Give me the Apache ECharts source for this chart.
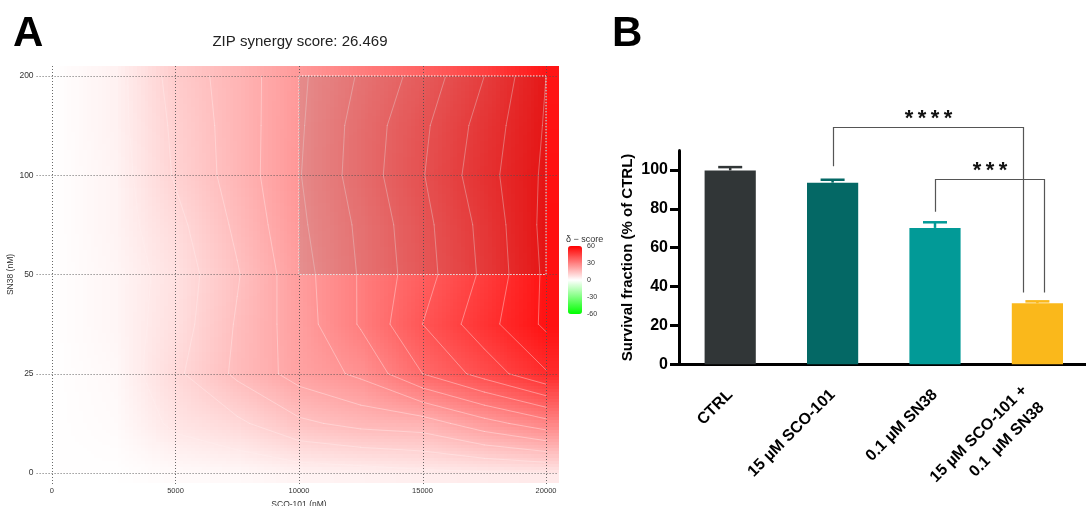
<!DOCTYPE html>
<html>
<head>
<meta charset="utf-8">
<script src="https://cdn.jsdelivr.net/npm/echarts@6.0.0/dist/echarts.min.js"></script>
<style>
html, body { margin: 0; padding: 0; background: #fff; }
#chart { width: 1086px; height: 506px; }
</style>
</head>
<body>
<div id="chart"></div>
<script>
const FONT = "'Liberation Sans', Arial, sans-serif"

// ---- panel A : ZIP synergy map ----
const zipScore = 26.469
const scoTicks = [0, 5000, 10000, 15000, 20000]
const sn38Ticks = [0, 25, 50, 100, 200]
// δ-score every half grid step
// rows: SN38 0 -> 200 (bottom to top), cols: SCO-101 0 -> 20000
const zipStep = 0.5
const zipScores = [
  [0, 0, 1, 1.5, 2.5, 3, 4, 4.5, 5],
  [0, 1, 6, 9, 14, 16.5, 17.5, 23, 28],
  [0, 1.5, 9, 16, 22, 26, 35, 42, 49.5],
  [0, 2, 7.5, 15.5, 22.5, 30.5, 40, 48, 56],
  [0, 2, 7, 14.6, 23, 30.5, 38, 46, 56],
  [0, 2.5, 8.5, 16, 24, 31, 38.5, 46.5, 56.5],
  [0, 2.5, 10.5, 17.2, 24.7, 32.3, 39.7, 48, 56],
  [0, 3, 11, 17.3, 24.3, 32, 39, 47, 55.5],
  [0, 3, 12, 17.4, 24, 30.6, 37, 45, 55],
]
const contourStep = 5
// most synergistic area
const bestSco = [10000, 20000]
const bestSn38 = [50, 200]

// ---- panel B : survival ----
const groups = ['CTRL', '15 µM SCO-101', '0.1 µM SN38', '15 µM SCO-101 +\n0.1  µM SN38']
const survival = [99.8, 93.5, 70.2, 31.4]
const survivalErr = [1.7, 1.5, 2.9, 1.0]
const barColors = ['#313637', '#046865', '#029a97', '#fab81b']
// [from, to, stars, foot left, foot right, top]
const comparisons = [
  [1, 3, '****', 102, 37, 122],
  [2, 3, '***', 78.5, 37, 95.5],
]

const surfaceData = []
zipScores.forEach((row, r) => row.forEach((v, c) => surfaceData.push([c * zipStep, r * zipStep, v])))

let surfaceCells = []
function renderSurface(params, api) {
  const k = params.dataIndexInside
  if (k === 0) surfaceCells = []
  surfaceCells.push([api.value(0), api.value(1), api.visual('color')])
  if (k < params.dataInsideLength - 1) return
  const nc = zipScores[0].length
  const nr = zipScores.length
  const cvs = document.createElement('canvas')
  cvs.width = nc
  cvs.height = nr
  const ctx = cvs.getContext('2d')
  surfaceCells.forEach(([x, y, col]) => {
    ctx.fillStyle = col
    ctx.fillRect(Math.round(x / zipStep), nr - 1 - Math.round(y / zipStep), 1, 1)
  })
  const h = zipStep / 2
  const tl = api.coord([-h, (nr - 1) * zipStep + h])
  const br = api.coord([(nc - 1) * zipStep + h, -h])
  return {
    type: 'image',
    style: { image: cvs, x: tl[0], y: tl[1], width: br[0] - tl[0], height: br[1] - tl[1] },
  }
}

// marching squares on the score grid
function contourSegments(api) {
  const segs = []
  const z = zipScores
  const pt = (c, r) => api.coord([c * zipStep, r * zipStep])
  for (let L = contourStep; L < 60; L += contourStep) {
    for (let r = 0; r < z.length - 1; r++) {
      for (let c = 0; c < z[0].length - 1; c++) {
        const corners = [[c, r], [c + 1, r], [c + 1, r + 1], [c, r + 1]]
        const hits = []
        for (let e = 0; e < 4; e++) {
          const a = corners[e]
          const b = corners[(e + 1) % 4]
          const va = z[a[1]][a[0]]
          const vb = z[b[1]][b[0]]
          if ((va < L) !== (vb < L)) {
            const t = (L - va) / (vb - va)
            const pa = pt(a[0], a[1])
            const pb = pt(b[0], b[1])
            hits.push([pa[0] + t * (pb[0] - pa[0]), pa[1] + t * (pb[1] - pa[1])])
          }
        }
        for (let h = 0; h + 1 < hits.length; h += 2) segs.push([hits[h], hits[h + 1]])
      }
    }
  }
  return segs
}

function renderOverlay(params, api) {
  const cs = params.coordSys
  const dots = { stroke: 'rgba(80,80,80,0.85)', lineWidth: 1, lineDash: [1, 2] }
  const children = []
  contourSegments(api).forEach(([p, q]) => {
    children.push({
      type: 'line', shape: { x1: p[0], y1: p[1], x2: q[0], y2: q[1] },
      style: { stroke: 'rgba(255,240,240,0.4)', lineWidth: 1, lineCap: 'round' },
    })
  })
  const a = api.coord([scoTicks.indexOf(bestSco[0]), sn38Ticks.indexOf(bestSn38[1])])
  const b = api.coord([scoTicks.indexOf(bestSco[1]), sn38Ticks.indexOf(bestSn38[0])])
  const box = { x: a[0], y: a[1], width: b[0] - a[0], height: b[1] - a[1] }
  children.push({ type: 'rect', shape: box, style: { fill: 'rgba(40,40,40,0.12)' } })
  scoTicks.forEach((_, i) => {
    const x = Math.round(api.coord([i, 0])[0]) + 0.5
    children.push({ type: 'line', shape: { x1: x, y1: cs.y, x2: x, y2: cs.y + cs.height + 3 }, style: dots })
  })
  sn38Ticks.forEach((_, j) => {
    const y = Math.round(api.coord([0, j])[1]) + 0.5
    children.push({ type: 'line', shape: { x1: cs.x - 3, y1: y, x2: cs.x + cs.width, y2: y }, style: dots })
  })
  children.push({
    type: 'rect', shape: box,
    style: { fill: 'none', stroke: 'rgba(255,255,255,0.9)', lineWidth: 1, lineDash: [1.5, 1.5] },
  })
  return { type: 'group', children }
}

function renderErr(params, api) {
  const i = api.value(0)
  const top = api.coord([i, api.value(1)])
  const end = api.coord([i, api.value(1) + api.value(2)])
  const col = barColors[i]
  return {
    type: 'group',
    children: [
      { type: 'line', shape: { x1: top[0], y1: top[1], x2: end[0], y2: end[1] }, style: { stroke: col, lineWidth: 2.5 } },
      { type: 'line', shape: { x1: end[0] - 12, y1: end[1], x2: end[0] + 12, y2: end[1] }, style: { stroke: col, lineWidth: 2.5 } },
    ],
  }
}

function renderBracket(params, api) {
  const shift = [-14, 7][params.dataIndex]
  const l0 = api.coord([api.value(0), api.value(3)])
  const r0 = api.coord([api.value(1), api.value(4)])
  const t = api.coord([api.value(0), api.value(5)])[1]
  const xl = Math.round(l0[0]) + 0.5
  const xr = Math.round(r0[0] + shift) + 0.5
  const yt = Math.round(t) + 0.5
  return {
    type: 'group',
    children: [
      {
        type: 'polyline',
        shape: { points: [[xl, l0[1]], [xl, yt], [xr, yt], [xr, r0[1]]] },
        style: { stroke: '#555', lineWidth: 1.2, fill: 'none' },
      },
      {
        type: 'text',
        style: {
          text: comparisons[params.dataIndex][2].split('').join('\u2009'),
          x: (xl + xr) / 2, y: yt - 9,
          align: 'center', verticalAlign: 'middle',
          font: `bold 22px ${FONT}`, fill: '#111',
        },
      },
    ],
  }
}

const chart = echarts.init(document.getElementById('chart'))

chart.setOption({
  animation: false,
  textStyle: { fontFamily: FONT },
  grid: [
    { left: 39.6, top: 66, width: 518.8, height: 417, containLabel: false, outerBoundsMode: 'none' },
    { left: 679, top: 150.6, width: 409.6, height: 213.7, containLabel: false, outerBoundsMode: 'none' },
    { left: 568, top: 246, width: 14, height: 68, containLabel: false, outerBoundsMode: 'none' },
  ],
  xAxis: [
    {
      type: 'value', gridIndex: 0, min: -0.1, max: 4.1,
      axisLine: { show: false },
      axisTick: { show: true, customValues: scoTicks.map((_, i) => i), length: 3, lineStyle: { color: '#444' } },
      axisLabel: {
        customValues: scoTicks.map((_, i) => i), formatter: v => scoTicks[v],
        fontSize: 7.5, color: '#333', margin: 4,
      },
      splitLine: { show: false },
      name: 'SCO-101 (nM)', nameLocation: 'middle', nameGap: 13,
      nameTextStyle: { fontSize: 8.5, color: '#333' },
    },
    {
      type: 'category', gridIndex: 1,
      data: groups.map(g => (g.includes('\n') ? { value: g, textStyle: { padding: [38, 6, 0, 0] } } : g)),
      axisLine: { lineStyle: { color: '#000', width: 3 } },
      axisTick: { alignWithLabel: true, length: 10, lineStyle: { color: '#000', width: 3 } },
      axisLabel: {
        rotate: 45, fontSize: 16, fontWeight: 'bold', color: '#000', margin: 28,
        lineHeight: 24, interval: 0,
      },
    },
    { type: 'value', gridIndex: 2, show: false, min: 0, max: 1 },
  ],
  yAxis: [
    {
      type: 'value', gridIndex: 0, min: -0.1, max: 4.1,
      axisLine: { show: false },
      axisTick: { show: true, customValues: sn38Ticks.map((_, i) => i), length: 4, lineStyle: { color: '#444' } },
      axisLabel: {
        customValues: sn38Ticks.map((_, i) => i), formatter: v => sn38Ticks[v],
        fontSize: 8.5, color: '#333', margin: 6,
      },
      splitLine: { show: false },
      name: 'SN38 (nM)', nameLocation: 'middle', nameGap: 23,
      nameTextStyle: { fontSize: 8.5, color: '#333' },
    },
    {
      type: 'value', gridIndex: 1, min: 0, max: 110,
      axisLine: { show: true, lineStyle: { color: '#000', width: 3 } },
      axisTick: { show: true, customValues: [0, 20, 40, 60, 80, 100], length: 9, lineStyle: { color: '#000', width: 3 } },
      axisLabel: { customValues: [0, 20, 40, 60, 80, 100], fontSize: 16, fontWeight: 'bold', color: '#000', margin: 11 },
      splitLine: { show: false },
      name: 'Survival fraction (% of CTRL)', nameLocation: 'middle', nameGap: 44,
      nameTextStyle: { fontSize: 15, fontWeight: 'bold', color: '#000' },
    },
    {
      type: 'value', gridIndex: 2, min: -60, max: 60, interval: 30, position: 'right', z: 10,
      axisLine: { show: false },
      axisTick: { show: true, inside: true, length: 3, lineStyle: { color: '#fff' } },
      axisLabel: { fontSize: 7, color: '#333', margin: 5 },
      splitLine: { show: false },
    },
  ],
  visualMap: {
    type: 'continuous', seriesIndex: 0, dimension: 2, min: -60, max: 60,
    calculable: false, hoverLink: false, padding: 0,
    left: 568, top: 246, itemWidth: 14, itemHeight: 68,
    inRange: { color: ['#00ff00', '#ffffff', '#ff0000'] },
    textStyle: { fontSize: 0 },
  },
  graphic: [
    { type: 'text', style: { text: 'A', x: 13, y: 34, verticalAlign: 'middle', font: `bold 42px ${FONT}`, fill: '#000' } },
    { type: 'text', style: { text: 'B', x: 612, y: 34, verticalAlign: 'middle', font: `bold 42px ${FONT}`, fill: '#000' } },
    {
      type: 'text',
      style: { text: `ZIP synergy score: ${zipScore}`, x: 300, y: 42, align: 'center', verticalAlign: 'middle', font: `15px ${FONT}`, fill: '#222' },
    },
    { type: 'text', style: { text: 'δ − score', x: 566, y: 240, verticalAlign: 'middle', font: `9px ${FONT}`, fill: '#333' } },
  ],
  series: [
    {
      type: 'custom', xAxisIndex: 0, yAxisIndex: 0, clip: true, z: 1,
      renderItem: renderSurface, data: surfaceData, silent: true,
    },
    {
      type: 'custom', xAxisIndex: 0, yAxisIndex: 0, clip: false, z: 3,
      renderItem: renderOverlay, data: [[0, 0]], silent: true,
    },
    {
      type: 'bar', xAxisIndex: 1, yAxisIndex: 1, barWidth: '50%',
      data: survival.map((v, i) => ({ value: v, itemStyle: { color: barColors[i] } })),
    },
    {
      type: 'custom', xAxisIndex: 1, yAxisIndex: 1, z: 3,
      renderItem: renderErr, data: survival.map((v, i) => [i, v, survivalErr[i]]),
    },
    {
      type: 'custom', xAxisIndex: 1, yAxisIndex: 1, z: 3, clip: false,
      renderItem: renderBracket, data: comparisons.map(c => [c[0], c[1], 0, c[3], c[4], c[5]]),
    },
  ],
})
</script>
</body>
</html>
